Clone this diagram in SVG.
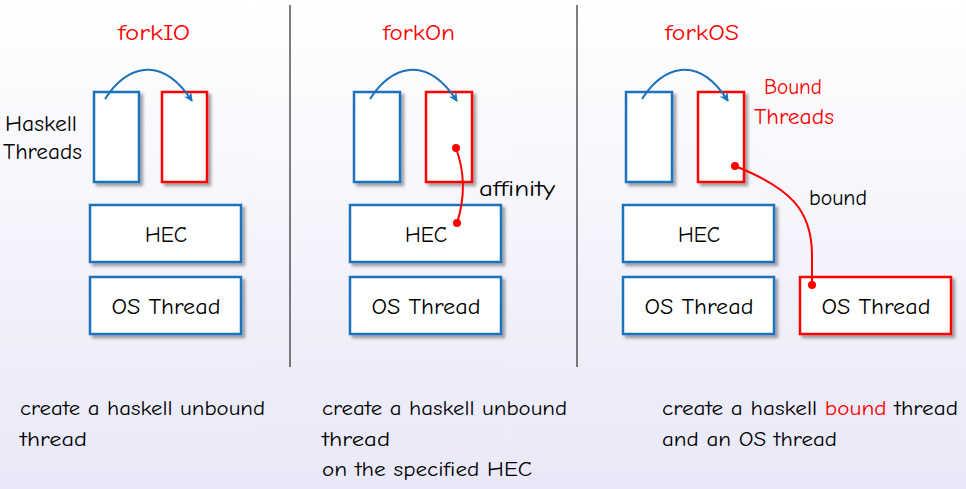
<svg xmlns="http://www.w3.org/2000/svg" width="966" height="489" viewBox="0 0 966 489">
<defs>
<linearGradient id="bg" x1="0" y1="0" x2="0" y2="1">
<stop offset="0" stop-color="#ffffff"/>
<stop offset="1" stop-color="#e8e8f8"/>
</linearGradient>
<filter id="sh" x="-20%" y="-20%" width="150%" height="150%">
<feDropShadow dx="3" dy="3" stdDeviation="1.5" flood-color="#000" flood-opacity="0.35"/>
</filter>
<marker id="ah" viewBox="0 0 10 10" refX="9" refY="5" markerWidth="9" markerHeight="9" markerUnits="userSpaceOnUse" orient="auto">
<path d="M0,0 L10,5 L0,10 L3,5 Z" fill="#1a72bb"/>
</marker>
</defs>
<style>
text{font-family:"Comic Neue","Noto Sans","DejaVu Sans",sans-serif;fill:#000}
.t{font-size:23px}
.title{font-size:23px;fill:#ff0000;text-anchor:middle}
.lbl{font-size:23px;text-anchor:middle}
.desc{font-size:21px}
.red{fill:#ff0000}
.b{fill:#fff;stroke:#1a72bb;stroke-width:2.5;filter:url(#sh)}
.r{fill:#fff;stroke:#ff0000;stroke-width:2.5;filter:url(#sh)}
.arc{fill:none;stroke:#1a72bb;stroke-width:2;marker-end:url(#ah)}
.link{fill:none;stroke:#ff0000;stroke-width:2}
.dot{fill:#ff0000}
.div{stroke:#000;stroke-width:1}
</style>
<rect width="966" height="489" fill="url(#bg)"/>
<g id="dividers">
<line class="div" x1="290" y1="5" x2="290" y2="367"/>
<line class="div" x1="577" y1="5" x2="577" y2="367"/>
</g>

<!-- Panel 1 -->
<g id="title-forkIO"><text class="title" x="154" y="40" textLength="72" lengthAdjust="spacingAndGlyphs">forkIO</text></g>
<g id="haskell-threads-label">
<text class="t" x="5" y="131" textLength="72" lengthAdjust="spacingAndGlyphs">Haskell</text>
<text class="t" x="3" y="159" textLength="79" lengthAdjust="spacingAndGlyphs">Threads</text>
</g>
<g id="p1-thread-a"><rect class="b" x="94" y="92" width="45" height="90"/></g>
<g id="p1-thread-b"><rect class="r" x="162" y="92" width="45" height="90"/></g>
<g id="p1-hec"><rect class="b" x="90" y="205" width="151" height="57"/><text class="lbl" x="166" y="242" textLength="42" lengthAdjust="spacingAndGlyphs">HEC</text></g>
<g id="p1-os"><rect class="b" x="90" y="277" width="151" height="57"/><text class="lbl" x="166" y="314" textLength="109" lengthAdjust="spacingAndGlyphs">OS Thread</text></g>
<g id="p1-desc">
<text class="desc" x="20" y="415" textLength="245" lengthAdjust="spacingAndGlyphs">create a haskell unbound</text>
<text class="desc" x="20" y="446" textLength="67" lengthAdjust="spacingAndGlyphs">thread</text>
</g>

<!-- Panel 2 -->
<g id="title-forkOn"><text class="title" x="419" y="40" textLength="72" lengthAdjust="spacingAndGlyphs">forkOn</text></g>
<g id="p2-thread-a"><rect class="b" x="354" y="92" width="46" height="90"/></g>
<g id="p2-thread-b"><rect class="r" x="426" y="92" width="46" height="90"/></g>
<g id="p2-hec"><rect class="b" x="350" y="205" width="151" height="57"/><text class="lbl" x="426" y="242" textLength="42" lengthAdjust="spacingAndGlyphs">HEC</text></g>
<g id="p2-os"><rect class="b" x="350" y="277" width="151" height="57"/><text class="lbl" x="426" y="314" textLength="109" lengthAdjust="spacingAndGlyphs">OS Thread</text></g>
<g id="affinity-label"><text class="t" x="479" y="196" textLength="76" lengthAdjust="spacingAndGlyphs">affinity</text></g>
<g id="p2-desc">
<text class="desc" x="322" y="415" textLength="245" lengthAdjust="spacingAndGlyphs">create a haskell unbound</text>
<text class="desc" x="322" y="446" textLength="68" lengthAdjust="spacingAndGlyphs">thread</text>
<text class="desc" x="322" y="476" textLength="210" lengthAdjust="spacingAndGlyphs">on the specified HEC</text>
</g>

<!-- Panel 3 -->
<g id="title-forkOS"><text class="title" x="702" y="40" textLength="74" lengthAdjust="spacingAndGlyphs">forkOS</text></g>
<g id="bound-threads-label">
<text class="t red" x="764" y="94" textLength="58" lengthAdjust="spacingAndGlyphs">Bound</text>
<text class="t red" x="754" y="124" textLength="80" lengthAdjust="spacingAndGlyphs">Threads</text>
</g>
<g id="p3-thread-a"><rect class="b" x="626" y="92" width="46" height="90"/></g>
<g id="p3-thread-b"><rect class="r" x="698" y="92" width="46" height="90"/></g>
<g id="p3-hec"><rect class="b" x="623" y="205" width="151" height="57"/><text class="lbl" x="699" y="242" textLength="42" lengthAdjust="spacingAndGlyphs">HEC</text></g>
<g id="p3-os"><rect class="b" x="623" y="277" width="151" height="57"/><text class="lbl" x="699" y="314" textLength="109" lengthAdjust="spacingAndGlyphs">OS Thread</text></g>
<g id="p3-os-bound"><rect class="r" x="800" y="277" width="151" height="57"/><text class="lbl" x="876" y="314" textLength="109" lengthAdjust="spacingAndGlyphs">OS Thread</text></g>
<g id="bound-label"><text class="t" x="809" y="205" textLength="58" lengthAdjust="spacingAndGlyphs">bound</text></g>
<g id="p3-desc">
<text class="desc" x="662" y="415" textLength="296" lengthAdjust="spacingAndGlyphs">create a haskell <tspan class="red">bound</tspan> thread</text>
<text class="desc" x="662" y="446" textLength="175" lengthAdjust="spacingAndGlyphs">and an OS thread</text>
</g>

<g id="connectors">
<path class="arc" d="M105,99 C125,68 160,52 192,101"/>
<path class="arc" d="M370,99 C390,68 425,52 457,101"/>
<path class="arc" d="M642,99 C662,68 697,52 728,101"/>
<path class="link" d="M456,148 C464,170 466,195 457,223"/>
<circle class="dot" cx="456" cy="148" r="4"/>
<circle class="dot" cx="457" cy="223" r="4"/>
<path class="link" d="M735,166 C790,188 812,210 812,255 L812,285"/>
<circle class="dot" cx="735" cy="166" r="4"/>
<circle class="dot" cx="812" cy="285" r="4"/>
</g>
</svg>
